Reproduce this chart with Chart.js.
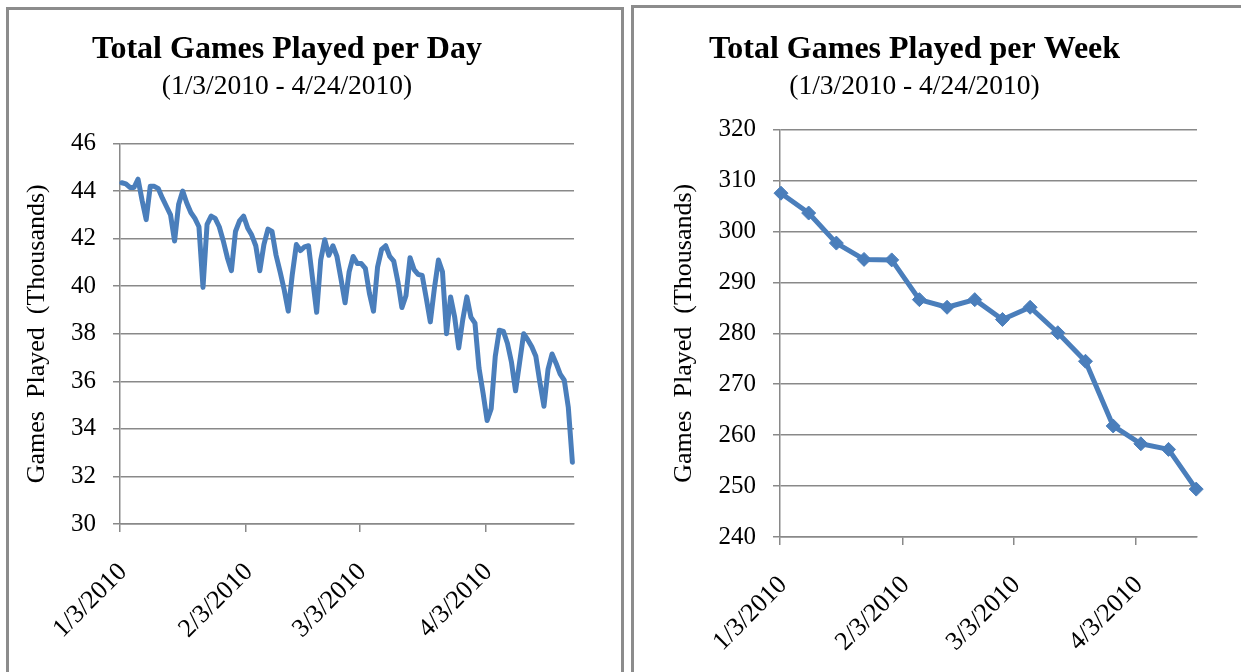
<!DOCTYPE html>
<html><head><meta charset="utf-8">
<script src="https://cdn.jsdelivr.net/npm/chart.js@4/dist/chart.umd.min.js"></script>
<style>
html,body{margin:0;padding:0;background:#fff;width:1241px;height:672px;overflow:hidden;}
body{position:relative;}
.panel{position:absolute;border:3px solid #8c8c8c;box-sizing:border-box;}
canvas{position:absolute;top:0;}
</style></head><body>
<div class="panel" style="left:6px;top:7px;width:618px;height:720px;"></div>
<div class="panel" style="left:631px;top:5px;width:700px;height:720px;"></div>
<canvas id="c1" width="616" height="672" style="left:0px;"></canvas>
<canvas id="c2" width="608" height="672" style="left:632px;"></canvas>
<script>
// ---- data ----
const dailyTitle = 'Total Games Played per Day';
const weeklyTitle = 'Total Games Played per Week';
const dateRange = '(1/3/2010 - 4/24/2010)';
const yAxisTitle = 'Games  Played  (Thousands)';
// daily totals (thousands), one per day starting 1/3/2010 (day index 0..111)
const dailyValues = [
  44.35, 44.3, 44.15, 44.15, 44.5, 43.6, 42.8,
  44.2, 44.2, 44.1, 43.7, 43.35, 43.0, 41.9,
  43.45, 44.0, 43.5, 43.1, 42.85, 42.5, 39.95,
  42.6, 42.95, 42.85, 42.5, 41.9, 41.2, 40.65,
  42.3, 42.75, 42.95, 42.45, 42.15, 41.7, 40.65,
  41.75, 42.4, 42.3, 41.3, 40.6, 39.85, 38.95,
  40.5, 41.75, 41.5, 41.65, 41.7, 40.3, 38.9,
  41.1, 41.95, 41.3, 41.7, 41.25, 40.3, 39.3,
  40.6, 41.25, 40.95, 40.95, 40.75, 39.7, 38.95,
  40.8, 41.55, 41.7, 41.25, 41.05, 40.2, 39.1,
  39.6, 41.2, 40.7, 40.5, 40.45, 39.5, 38.5,
  39.9, 41.1, 40.6, 38.0, 39.55, 38.7, 37.4,
  38.6, 39.55, 38.7, 38.45, 36.55, 35.5, 34.35,
  34.85, 37.05, 38.15, 38.1, 37.6, 36.8, 35.6,
  36.8, 38.0, 37.75, 37.45, 37.05, 35.95, 34.95,
  36.5, 37.15, 36.75, 36.3, 36.05, 34.9, 32.6
];
// weekly totals (thousands), one per week starting 1/3/2010
const weeklyValues = [307.5, 303.6, 297.7, 294.5, 294.4, 286.6, 285.1, 286.6,
                      282.7, 285.1, 280.1, 274.5, 261.8, 258.3, 257.2, 249.4];
const daysPerWeek = 7;
// tick dates (day offset from 1/3/2010) and their labels
const tickDays = [0, 31, 59, 90];
const tickLabels = ['1/3/2010', '2/3/2010', '3/3/2010', '4/3/2010'];

// ---- styles ----
const FONT = "'Liberation Serif', 'Times New Roman', Times, serif";
const GRID = '#898989';
const LINE = '#4a7ebb';

function makeChart(id, cfg) {
  const ctx = document.getElementById(id);
  return new Chart(ctx, {
    type: 'line',
    data: { datasets: [{
      data: cfg.points,
      clip: false,
      borderColor: LINE,
      backgroundColor: LINE,
      borderWidth: 5,
      borderJoinStyle: 'round',
      borderCapStyle: 'round',
      tension: 0,
      fill: false,
      pointRadius: cfg.pointRadius,
      pointStyle: 'rectRot',
      pointBackgroundColor: LINE,
      pointBorderColor: LINE,
      pointBorderWidth: 1,
      pointHoverRadius: cfg.pointRadius
    }]},
    options: {
      responsive: false,
      animation: false,
      devicePixelRatio: 1,
      events: [],
      layout: { autoPadding: false, padding: { left: 0, top: 0, right: cfg.padRight, bottom: 0 } },
      plugins: {
        legend: { display: false },
        tooltip: { enabled: false },
        title: { display: true, text: cfg.title, color: '#000',
          font: { family: FONT, size: 32, weight: 'bold', lineHeight: 1.2 },
          padding: { top: 31, bottom: 0 } },
        subtitle: { display: true, text: dateRange, color: '#000',
          font: { family: FONT, size: 27.5, weight: 'normal', lineHeight: 1.2 },
          padding: { top: 0.6, bottom: cfg.subPadBottom } }
      },
      scales: {
        x: {
          type: 'linear', min: cfg.xMin, max: cfg.xMax,
          afterBuildTicks: s => { s.ticks = tickDays.map(d => ({ value: d + cfg.xMin })); },
          afterFit: s => { s.height = cfg.xAxisHeight; },
          ticks: { autoSkip: false, minRotation: 45, maxRotation: 45, padding: 25, labelOffset: 3,
            color: '#000', font: { family: FONT, size: 26 },
            callback: (v, i) => tickLabels[i] },
          grid: { drawOnChartArea: false, drawTicks: true, tickLength: 8, color: GRID, lineWidth: 1.5 },
          border: { display: true, color: GRID, width: 1.5 }
        },
        y: {
          min: cfg.yMin, max: cfg.yMax,
          afterFit: s => { s.width = cfg.yAxisWidth; },
          ticks: { stepSize: cfg.yStep, padding: 17, color: '#000', font: { family: FONT, size: 25 } },
          grid: { color: GRID, lineWidth: 1.5, tickLength: 7 },
          border: { display: true, color: GRID, width: 1.5 },
          title: { display: true, text: yAxisTitle, color: '#000',
            font: { family: FONT, size: 26 }, padding: { top: cfg.yTitlePad, bottom: 0 } }
        }
      }
    }
  });
}

makeChart('c1', {
  title: dailyTitle,
  points: dailyValues.map((v, i) => ({ x: i, y: v })),
  pointRadius: 0,
  xMin: -0.45, xMax: 111.4,
  yMin: 30, yMax: 46, yStep: 2,
  yAxisWidth: 120, xAxisHeight: 148, padRight: 42,
  subPadBottom: 40.5, yTitlePad: 22
});
makeChart('c2', {
  title: weeklyTitle,
  points: weeklyValues.map((v, i) => ({ x: i * daysPerWeek, y: v })),
  pointRadius: 7,
  xMin: -0.25, xMax: 105.2,
  yMin: 240, yMax: 320, yStep: 10,
  yAxisWidth: 148, xAxisHeight: 135, padRight: 43,
  subPadBottom: 26.5, yTitlePad: 37
});
</script>
</body></html>
